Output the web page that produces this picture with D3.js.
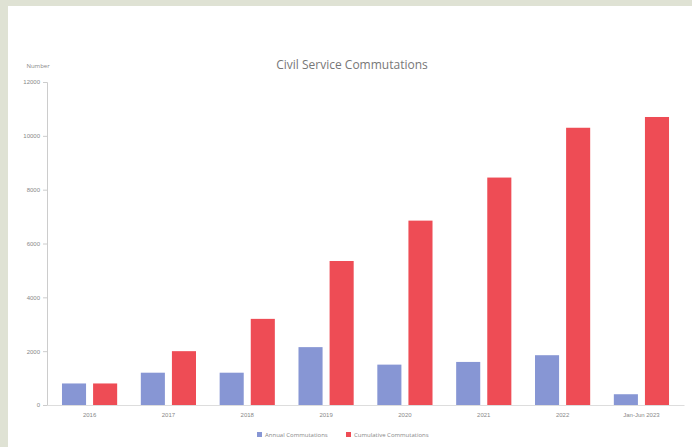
<!DOCTYPE html>
<html>
<head>
<meta charset="utf-8">
<script src="https://cdn.jsdelivr.net/npm/d3@7"></script>
<style>
  body { margin: 0; background: #dfe2d4; }
  svg { display: block; font-family: "Open Sans", sans-serif; }
</style>
</head>
<body>
<svg id="chart"></svg>
<script>
// chart data
const categories = ["2016", "2017", "2018", "2019", "2020", "2021", "2022", "Jan-Jun 2023"];
const annual = [800, 1200, 1200, 2150, 1500, 1600, 1850, 400];
const cumulative = [800, 2000, 3200, 5350, 6850, 8450, 10300, 10700];
const yTicks = [0, 2000, 4000, 6000, 8000, 10000, 12000];
const seriesNames = ["Annual Commutations", "Cumulative Commutations"];
const colors = ["#8796d4", "#ee4c55"];

const W = 692, H = 447;
let margin = {top: 82, right: 8, bottom: 42, left: 47};
let width = W - margin.left - margin.right,
    height = H - margin.top - margin.bottom;

let svg = d3.select("#chart").attr("width", W).attr("height", H);

// white panel
svg.append("rect")
    .attr("x", 8).attr("y", 6)
    .attr("width", W - 8).attr("height", H - 6)
    .attr("fill", "#fff");

let g = svg.append("g").attr("transform", `translate(${margin.left},${margin.top})`);

let x0 = d3.scaleBand()
    .domain(categories)
    .range([0, width])
    .paddingInner(0.3)
    .paddingOuter(0.19);

let x1 = d3.scaleBand()
    .domain([0, 1])
    .range([0, x0.bandwidth()])
    .paddingInner(0.226)
    .paddingOuter(0);

let y = d3.scaleLinear()
    .domain([0, 12000])
    .range([height, 0]);

// y axis
let yAxis = g.append("g")
    .call(d3.axisLeft(y).tickValues(yTicks).tickSize(4).tickFormat(d3.format("d")));
yAxis.select(".domain").attr("stroke", "#ccc");
yAxis.selectAll(".tick line").attr("stroke", "#ccc");
yAxis.selectAll("text").attr("fill", "#888").style("font-size", "6px");

// x axis
let xAxis = g.append("g")
    .attr("transform", `translate(0,${height})`)
    .call(d3.axisBottom(x0).tickSize(0).tickPadding(8));
xAxis.select(".domain").attr("stroke", "#ddd");
xAxis.selectAll("text").attr("fill", "#888").style("font-size", "6px");

// bars
let groups = g.selectAll(".grp")
    .data(categories)
    .enter().append("g")
    .attr("transform", d => `translate(${x0(d)},0)`);

[annual, cumulative].forEach((vals, si) => {
    groups.append("rect")
        .attr("x", x1(si))
        .attr("y", (d, i) => y(vals[i]))
        .attr("width", x1.bandwidth())
        .attr("height", (d, i) => height - y(vals[i]))
        .attr("fill", colors[si]);
});

// title
svg.append("text")
    .attr("x", 352).attr("y", 69)
    .attr("text-anchor", "middle")
    .attr("fill", "#777")
    .style("font-size", "12px")
    .text("Civil Service Commutations");

// y label
svg.append("text")
    .attr("x", 38).attr("y", 68)
    .attr("text-anchor", "middle")
    .attr("fill", "#888")
    .style("font-size", "6px")
    .text("Number");

// legend
let legend = svg.append("g").attr("transform", "translate(257,436)");
let lx = [0, 89];
seriesNames.forEach((name, i) => {
    let item = legend.append("g").attr("transform", `translate(${lx[i]},0)`);
    item.append("rect")
        .attr("x", 0).attr("y", -4)
        .attr("width", 5).attr("height", 5)
        .attr("fill", colors[i]);
    item.append("text")
        .attr("x", 8).attr("y", 1)
        .attr("fill", "#888")
        .style("font-size", "6px")
        .text(name);
});
</script>
</body>
</html>
